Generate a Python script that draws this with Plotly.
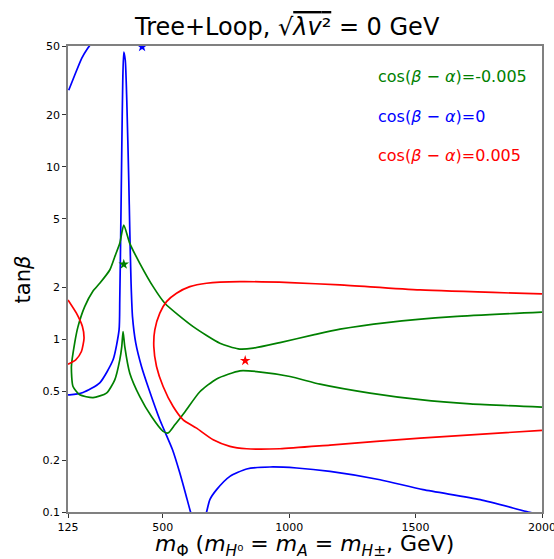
import plotly.graph_objects as go

# ---------------- data ----------------
# cos(beta-alpha) = 0  (blue)
blue_a_x = [127.8, 151.4, 179.1, 203.0, 215.0]
blue_a_y = [27.72, 33.84, 42.45, 48.5, 51.2]

blue_b_x = [125.0, 131.7, 184.4, 250.6, 303.2, 327.0, 329.8, 333.7, 337.7, 341.7, 345.6,
            351.6, 357.5, 365.4, 369.4, 374.5, 380.1, 393.1, 415.7, 445.8, 488.2, 538.5,
            567.4, 591.2, 609.8, 615.0]
blue_b_y = [0.477, 0.477, 0.492, 0.560, 0.761, 1.134, 1.691, 4.30, 12.47, 31.67, 46.16,
            41.33, 24.26, 8.36, 4.30, 2.112, 1.354, 0.950, 0.696, 0.510, 0.342, 0.2294,
            0.1682, 0.1260, 0.100, 0.0953]

blue_c_x = [668.4, 673.1, 686.2, 712.8, 765.4, 831.6, 923.9, 1029.6, 1161.5, 1359.5,
            1529.8, 1755.5, 1945.7, 1993.0]
blue_c_y = [0.0953, 0.100, 0.1179, 0.1347, 0.1608, 0.1774, 0.1822, 0.1798, 0.1718, 0.1538,
            0.1347, 0.1179, 0.100, 0.0965]

# cos(beta-alpha) = -0.005  (green)
green_x = [2000.0, 1649.9, 1386.1, 1201.1, 1095.4, 963.5, 857.7, 798.3, 725.8, 620.1,
           508.0, 461.7, 409.0, 369.4, 345.6,
           329.8, 310.0, 290.2, 250.6, 224.0, 191.1, 164.6, 151.5, 138.5, 144.8, 171.3,
           224.0, 277.1, 310.0, 329.8, 337.7, 342.8,
           349.6, 369.4, 409.0, 455.3, 501.3, 521.1, 547.6, 587.2, 646.6, 712.8, 805.0,
           871.2, 1003.1, 1121.9, 1319.9, 1518.0, 1716.0, 2000.0]
green_y = [1.437, 1.354, 1.250, 1.145, 1.061, 0.958, 0.889, 0.881, 0.950, 1.185,
           1.619, 2.019, 2.757, 3.598, 4.592,
           3.598, 3.010, 2.521, 2.112, 1.906, 1.547, 1.185, 0.954, 0.696, 0.533, 0.477,
           0.460, 0.488, 0.583, 0.761, 0.908, 1.109,
           0.908, 0.637, 0.466, 0.357, 0.293, 0.287, 0.320, 0.380, 0.497, 0.590, 0.657,
           0.651, 0.609, 0.550, 0.488, 0.447, 0.423, 0.405]

# cos(beta-alpha) = 0.005  (red)
red_a_x = [125.0, 158.3, 182.0, 188.4, 178.1, 155.5, 125.0]
red_a_y = [1.691, 1.417, 1.185, 1.016, 0.850, 0.761, 0.718]

red_b_x = [2000.0, 1518.0, 1201.1, 1003.1, 805.0, 673.1, 607.0, 554.3, 514.7, 488.2,
           468.4, 464.4, 475.1, 501.3, 540.9, 580.5, 633.5, 699.3, 765.4, 831.6, 963.5,
           1161.5, 1518.0, 2000.0]
red_b_y = [1.832, 1.932, 2.065, 2.130, 2.158, 2.112, 2.019, 1.849, 1.653, 1.417,
           1.134, 0.908, 0.696, 0.533, 0.408, 0.342, 0.306, 0.262, 0.240, 0.2325, 0.2325,
           0.244, 0.268, 0.297]

# benchmark stars
star_x = [418.0, 345.6, 826.0]
star_y = [49.5, 2.72, 0.753]
star_colors = ["blue", "green", "red"]

legend_labels = ["cos(<i>β</i> − <i>α</i>)=-0.005",
                 "cos(<i>β</i> − <i>α</i>)=0",
                 "cos(<i>β</i> − <i>α</i>)=0.005"]
legend_colors = ["green", "blue", "red"]

x_ticks = [125, 500, 1000, 1500, 2000]
y_ticks = [0.1, 0.2, 0.5, 1, 2, 5, 10, 20, 50]
y_ticktext = ["0.1", "0.2", "0.5", "1", "2", "5", "10", "20", "50"]

# ---------------- figure ----------------
FONT = "DejaVu Sans"
LW = 1.7
fig = go.Figure()

def add_line(xs, ys, color):
    fig.add_trace(go.Scatter(x=xs, y=ys, mode="lines",
                             line=dict(color=color, width=LW, shape="spline", smoothing=0.6),
                             showlegend=False, hoverinfo="skip"))

add_line(blue_a_x, blue_a_y, "blue")
add_line(blue_b_x, blue_b_y, "blue")
add_line(blue_c_x, blue_c_y, "blue")
add_line(green_x, green_y, "green")
add_line(red_a_x, red_a_y, "red")
add_line(red_b_x, red_b_y, "red")

fig.add_trace(go.Scatter(x=star_x, y=star_y, mode="markers",
                         marker=dict(symbol="star", size=8, color=star_colors, line=dict(width=0)),
                         showlegend=False, hoverinfo="skip"))

for i, (lab, col) in enumerate(zip(legend_labels, legend_colors)):
    fig.add_annotation(x=0.65, y=0.935 - i * 0.0855, xref="paper", yref="paper",
                       text=lab, showarrow=False, xanchor="left", yanchor="middle",
                       font=dict(family=FONT, size=16, color=col))

# title
fig.add_annotation(x=0.461, y=1.04, xref="paper", yref="paper", showarrow=False,
                   xanchor="center", yanchor="middle",
                   text="Tree+Loop, √<span style='text-decoration:overline'><i>λv</i>²</span> = 0 GeV",
                   font=dict(family=FONT, size=24, color="black"))
# y title
fig.add_annotation(x=-0.094, y=0.5, xref="paper", yref="paper", showarrow=False,
                   textangle=-90, xanchor="center", yanchor="middle",
                   text="tan<i>β</i>", font=dict(family=FONT, size=21, color="black"))
# x title
fig.add_annotation(x=0.499, y=-0.071, xref="paper", yref="paper", showarrow=False,
                   xanchor="center", yanchor="middle",
                   text="<i>m</i><sub>Φ</sub> (<i>m</i><sub><i>H</i>⁰</sub> = <i>m</i><sub><i>A</i></sub> = <i>m</i><sub><i>H</i>±</sub>, GeV)",
                   font=dict(family=FONT, size=22, color="black"))

axis_common = dict(showline=True, mirror=True, linecolor="#808080", linewidth=1.5,
                   ticks="outside", ticklen=4, tickwidth=1, tickcolor="#333333",
                   showgrid=False, zeroline=False, automargin=False,
                   ticklabeloverflow="allow",
                   tickfont=dict(family=FONT, size=11, color="black"))

fig.update_xaxes(range=[125, 2000], tickvals=x_ticks, ticktext=[str(v) for v in x_ticks], **axis_common)
fig.update_yaxes(type="log", range=[-1, 1.69897], tickvals=y_ticks, ticktext=y_ticktext, **axis_common)

fig.update_layout(width=554, height=559, autosize=False,
                  margin=dict(l=68, r=12, t=46, b=47, pad=0),
                  plot_bgcolor="white", paper_bgcolor="white",
                  font=dict(family=FONT))

post = ("document.documentElement.style.overflow='hidden';"
        "document.body.style.overflow='hidden';document.body.style.margin='0';"
        "var gd=document.getElementById('{plot_id}');"
        "Plotly.relayout(gd,{width:554,height:559});")

fig.write_html("out.html", config={"responsive": False}, post_script=post)
